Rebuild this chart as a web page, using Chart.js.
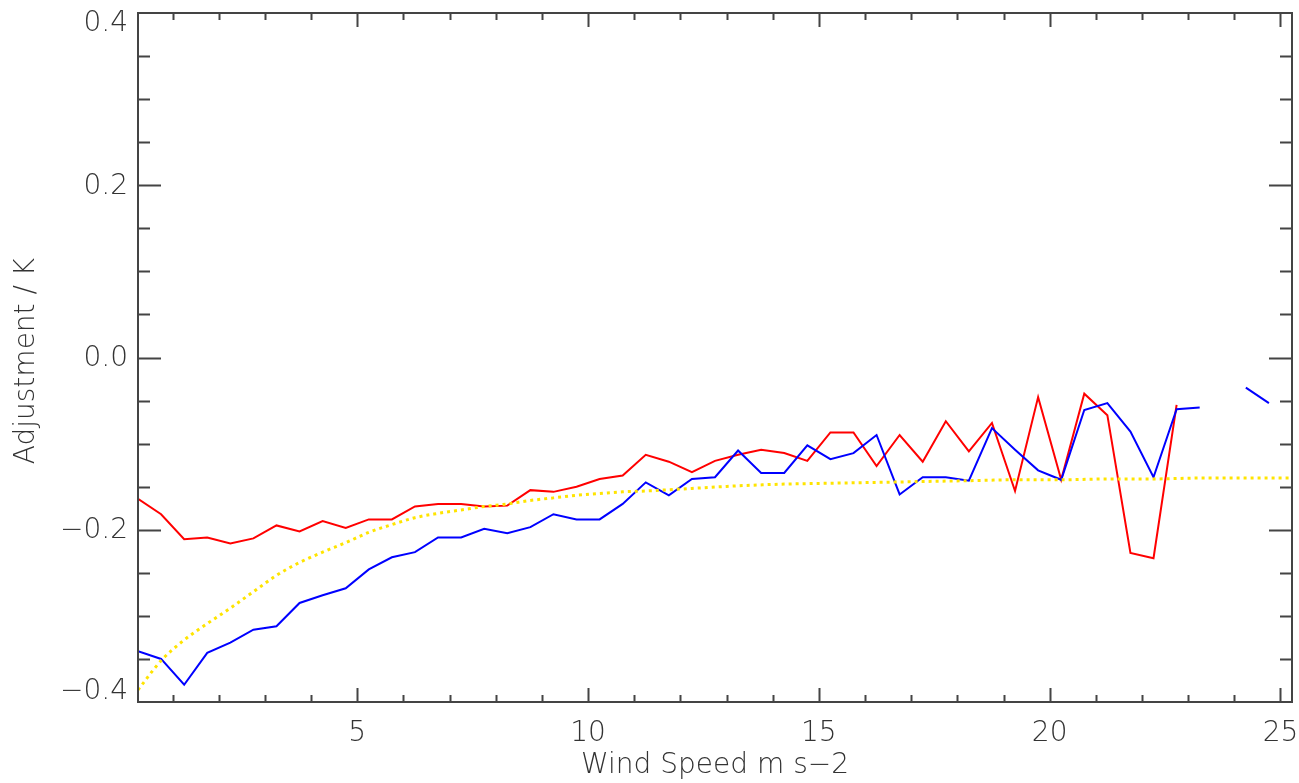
<!DOCTYPE html>
<html>
<head>
<meta charset="utf-8">
<title>Adjustment vs wind speed</title>
<script src="https://cdn.jsdelivr.net/npm/chart.js@4.4.1/dist/chart.umd.min.js"></script>
<style>
  body { margin: 0; background: #fff; }
</style>
</head>
<body>
<canvas id="windGraph" width="1299" height="783"></canvas>
<script>
// bin centres of wind speed (0.5 wide bins)
const windSpeed = [
  0.25, 0.75, 1.25, 1.75, 2.25, 2.75, 3.25, 3.75, 4.25, 4.75,
  5.25, 5.75, 6.25, 6.75, 7.25, 7.75, 8.25, 8.75, 9.25, 9.75,
  10.25, 10.75, 11.25, 11.75, 12.25, 12.75, 13.25, 13.75, 14.25, 14.75,
  15.25, 15.75, 16.25, 16.75, 17.25, 17.75, 18.25, 18.75, 19.25, 19.75,
  20.25, 20.75, 21.25, 21.75, 22.25, 22.75, 23.25, 23.75, 24.25, 24.75
];

// red curve
const adjRed = [
  -0.164, -0.182, -0.211, -0.209, -0.216, -0.210, -0.195, -0.202, -0.190, -0.198,
  -0.188, -0.188, -0.173, -0.170, -0.170, -0.173, -0.172, -0.154, -0.156, -0.150,
  -0.141, -0.137, -0.113, -0.121, -0.133, -0.120, -0.113, -0.107, -0.111, -0.120,
  -0.087, -0.087, -0.126, -0.090, -0.121, -0.074, -0.109, -0.076, -0.155, -0.046,
  -0.142, -0.042, -0.067, -0.227, -0.233, -0.055, null, null, null, null
];

// blue curve
const adjBlue = [
  -0.341, -0.350, -0.380, -0.343, -0.331, -0.316, -0.312, -0.285, -0.276, -0.268,
  -0.246, -0.232, -0.226, -0.209, -0.209, -0.199, -0.204, -0.197, -0.182, -0.188,
  -0.188, -0.170, -0.145, -0.160, -0.141, -0.139, -0.108, -0.134, -0.134, -0.102,
  -0.118, -0.111, -0.090, -0.159, -0.139, -0.139, -0.143, -0.082, -0.107, -0.131,
  -0.142, -0.061, -0.053, -0.086, -0.139, -0.060, -0.058, null, -0.035, -0.053
];

// yellow fitted curve
const fitSpeed = [
  0.25, 0.75, 1.25, 1.75, 2.25, 2.75, 3.25, 3.75, 4.25, 4.75,
  5.25, 5.75, 6.25, 6.75, 7.25, 7.75, 8.25, 8.75, 9.25, 9.75,
  10.25, 10.75, 11.25, 12.25, 13.25, 14.25, 15.25, 16.25, 17.25, 18.25,
  19.25, 20.25, 21.25, 22.25, 23.25, 24.25, 25.25
];
const fitAdj = [
  -0.386, -0.352, -0.328, -0.309, -0.291, -0.272, -0.253, -0.238, -0.226, -0.215,
  -0.203, -0.194, -0.186, -0.181, -0.177, -0.173, -0.170, -0.166, -0.163, -0.160,
  -0.158, -0.156, -0.155, -0.152, -0.149, -0.147, -0.146, -0.145, -0.144, -0.143,
  -0.142, -0.142, -0.141, -0.141, -0.140, -0.140, -0.140
];

const xTicks = [5, 10, 15, 20, 25];
const yTicks = [-0.4, -0.2, 0.0, 0.2, 0.4];
const xTitle = 'Wind Speed m s\u22122';
const yTitle = 'Adjustment / K';

function toPoints(xs, ys) {
  return xs.map((v, i) => ({ x: v, y: ys[i] }));
}

function fmtY(v) {
  const s = Math.abs(v).toFixed(1);
  return v < -1e-9 ? '\u2212' + s : s;
}

// box with inward ticks on every side, labels and titles
const boxAxes = {
  id: 'boxAxes',
  afterDraw(chart) {
    const ctx = chart.ctx;
    const a = chart.chartArea;
    const x = chart.scales.x;
    const y = chart.scales.y;

    ctx.save();
    ctx.strokeStyle = '#444';
    ctx.lineWidth = 2;
    ctx.strokeRect(a.left, a.top, a.right - a.left, a.bottom - a.top);

    ctx.beginPath();
    for (let v = 1; v <= 25; v++) {
      const px = Math.round(x.getPixelForValue(v)) + 0.5;
      const len = v % 5 === 0 ? 14 : 7;
      ctx.moveTo(px, a.bottom); ctx.lineTo(px, a.bottom - len);
      ctx.moveTo(px, a.top); ctx.lineTo(px, a.top + len);
    }
    for (let i = -7; i <= 7; i++) {
      const py = Math.round(y.getPixelForValue(i * 0.05)) + 0.5;
      const len = i % 4 === 0 ? 23 : 12;
      ctx.moveTo(a.left, py); ctx.lineTo(a.left + len, py);
      ctx.moveTo(a.right, py); ctx.lineTo(a.right - len, py);
    }
    ctx.stroke();

    ctx.fillStyle = '#333';
    ctx.font = '200 28px "DejaVu Sans"';

    ctx.textAlign = 'right';
    ctx.textBaseline = 'middle';
    yTicks.forEach(v => {
      let py = y.getPixelForValue(v);
      py = Math.min(Math.max(py, a.top + 10), a.bottom - 11);
      ctx.fillText(fmtY(v), a.left - 10, py + 1);
    });

    ctx.textAlign = 'center';
    xTicks.forEach(v => {
      ctx.fillText(String(v), x.getPixelForValue(v), a.bottom + 32);
    });

    ctx.fillText(xTitle, (a.left + a.right) / 2, a.bottom + 64);

    ctx.translate(27, 361);
    ctx.rotate(-Math.PI / 2);
    ctx.fillText(yTitle, 0, 0);
    ctx.restore();
  }
};

const ctx = document.getElementById('windGraph').getContext('2d');
new Chart(ctx, {
  type: 'line',
  data: {
    datasets: [
      {
        data: toPoints(fitSpeed, fitAdj),
        borderColor: 'rgb(255, 228, 0)',
        borderWidth: 3,
        borderDash: [3, 4],
        cubicInterpolationMode: 'monotone',
        pointRadius: 0
      },
      {
        data: toPoints(windSpeed, adjBlue),
        borderColor: 'rgb(0, 0, 255)',
        borderWidth: 2,
        pointRadius: 0,
        spanGaps: false
      },
      {
        data: toPoints(windSpeed, adjRed),
        borderColor: 'rgb(255, 0, 0)',
        borderWidth: 2,
        pointRadius: 0,
        spanGaps: false
      }
    ]
  },
  options: {
    responsive: false,
    animation: false,
    layout: { padding: { left: 138, top: 13, right: 7, bottom: 81 } },
    plugins: {
      legend: { display: false },
      tooltip: { enabled: false }
    },
    scales: {
      x: { type: 'linear', min: 0.25, max: 25.25, display: false },
      y: { type: 'linear', min: -0.4, max: 0.4, display: false }
    }
  },
  plugins: [boxAxes]
});
</script>
</body>
</html>
